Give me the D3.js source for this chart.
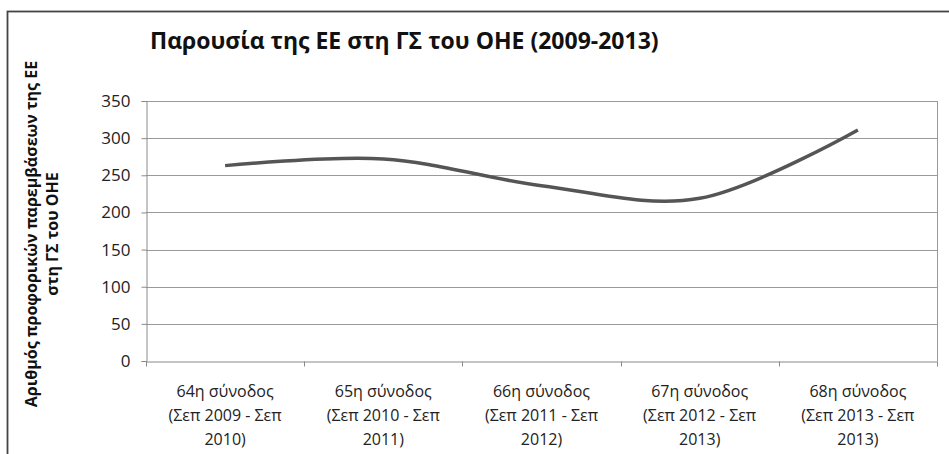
<!DOCTYPE html>
<html>
<head>
<meta charset="utf-8">
<script src="https://cdn.jsdelivr.net/npm/d3@7"></script>
<style>
  body { margin: 0; background: #fff; }
  svg { display: block; font-family: "Open Sans", sans-serif; }
</style>
</head>
<body>
<div id="container"></div>
<script>
// data
const sessions = ["64η σύνοδος", "65η σύνοδος", "66η σύνοδος", "67η σύνοδος", "68η σύνοδος"];
const periods = ["(Σεπ 2009 - Σεπ", "(Σεπ 2010 - Σεπ", "(Σεπ 2011 - Σεπ", "(Σεπ 2012 - Σεπ", "(Σεπ 2013 - Σεπ"];
const periodEnds = ["2010)", "2011)", "2012)", "2013)", "2013)"];
const interventions = [263, 272, 236, 219, 311];
const yTicks = [0, 50, 100, 150, 200, 250, 300, 350];

const W = 949, H = 454;
const plot = { left: 146, right: 937, top: 101, bottom: 361 };

const svg = d3.select("#container").append("svg")
  .attr("width", W)
  .attr("height", H);

// outer chart frame
svg.append("rect")
  .attr("x", 7.5).attr("y", 11.5)
  .attr("width", W).attr("height", H)
  .attr("fill", "none")
  .attr("stroke", "#444")
  .attr("stroke-width", 1.8);

const x = d3.scaleBand().domain(sessions).range([plot.left, plot.right]);
const y = d3.scaleLinear().domain([0, 350]).range([plot.bottom, plot.top]);

// gridlines
svg.append("g").selectAll("line").data(yTicks.filter(d => d > 0))
  .enter().append("line")
  .attr("x1", plot.left).attr("x2", plot.right)
  .attr("y1", d => Math.round(y(d)) + 0.5).attr("y2", d => Math.round(y(d)) + 0.5)
  .attr("stroke", "#9a9a9a").attr("stroke-width", 1);

// plot area right edge
svg.append("line")
  .attr("x1", plot.right + 0.5).attr("x2", plot.right + 0.5)
  .attr("y1", plot.top).attr("y2", plot.bottom)
  .attr("stroke", "#9a9a9a");

// y axis
const yAxis = svg.append("g")
  .attr("transform", "translate(" + (plot.left + 0.5) + ",0)")
  .call(d3.axisLeft(y).tickValues(yTicks).tickSize(5).tickPadding(11));
yAxis.selectAll("line, path").attr("stroke", "#8a8a8a");
yAxis.selectAll("text").attr("font-size", 17).attr("fill", "#222")
  .style("font-family", "Open Sans, sans-serif");

// x axis
const xAxis = svg.append("g")
  .attr("transform", "translate(0," + (plot.bottom + 0.5) + ")")
  .call(d3.axisBottom(x).tickSize(0).tickFormat(""));
xAxis.select("path").attr("stroke", "#8a8a8a");
// category boundary ticks
const bounds = sessions.map(s => x(s)).concat([plot.right]);
xAxis.selectAll(".bnd").data(bounds).enter().append("line")
  .attr("x1", d => Math.round(d) + 0.5).attr("x2", d => Math.round(d) + 0.5)
  .attr("y1", 0).attr("y2", 5)
  .attr("stroke", "#8a8a8a");

const labels = svg.append("g").selectAll("text").data(sessions)
  .enter().append("text")
  .attr("text-anchor", "middle")
  .attr("font-size", 16)
  .attr("fill", "#222");
labels.append("tspan").attr("x", d => x(d) + x.bandwidth() / 2).attr("y", 397).text(d => d);
labels.append("tspan").attr("x", d => x(d) + x.bandwidth() / 2).attr("y", 421).text((d, i) => periods[i]);
labels.append("tspan").attr("x", d => x(d) + x.bandwidth() / 2).attr("y", 445).text((d, i) => periodEnds[i]);

// line
const line = d3.line()
  .x((d, i) => x(sessions[i]) + x.bandwidth() / 2)
  .y(d => y(d))
  .curve(d3.curveCatmullRom.alpha(0));
svg.append("path")
  .datum(interventions)
  .attr("d", line)
  .attr("fill", "none")
  .attr("stroke", "#555")
  .attr("stroke-width", 3.5);

// title
svg.append("text")
  .attr("x", 150).attr("y", 49)
  .attr("font-size", 23)
  .attr("font-weight", "bold")
  .attr("fill", "#111")
  .text("Παρουσία της ΕΕ στη ΓΣ του ΟΗΕ (2009-2013)");

// y axis title
const yt = svg.append("text")
  .attr("transform", "translate(37,234) rotate(-90)")
  .attr("text-anchor", "middle")
  .attr("font-size", 16)
  .attr("font-weight", "bold")
  .attr("fill", "#111");
yt.append("tspan").attr("x", 0).attr("y", 0).text("Αριθμός προφορικών παρεμβάσεων της ΕΕ");
yt.append("tspan").attr("x", 0).attr("y", 21).text("στη ΓΣ του ΟΗΕ");
</script>
</body>
</html>
